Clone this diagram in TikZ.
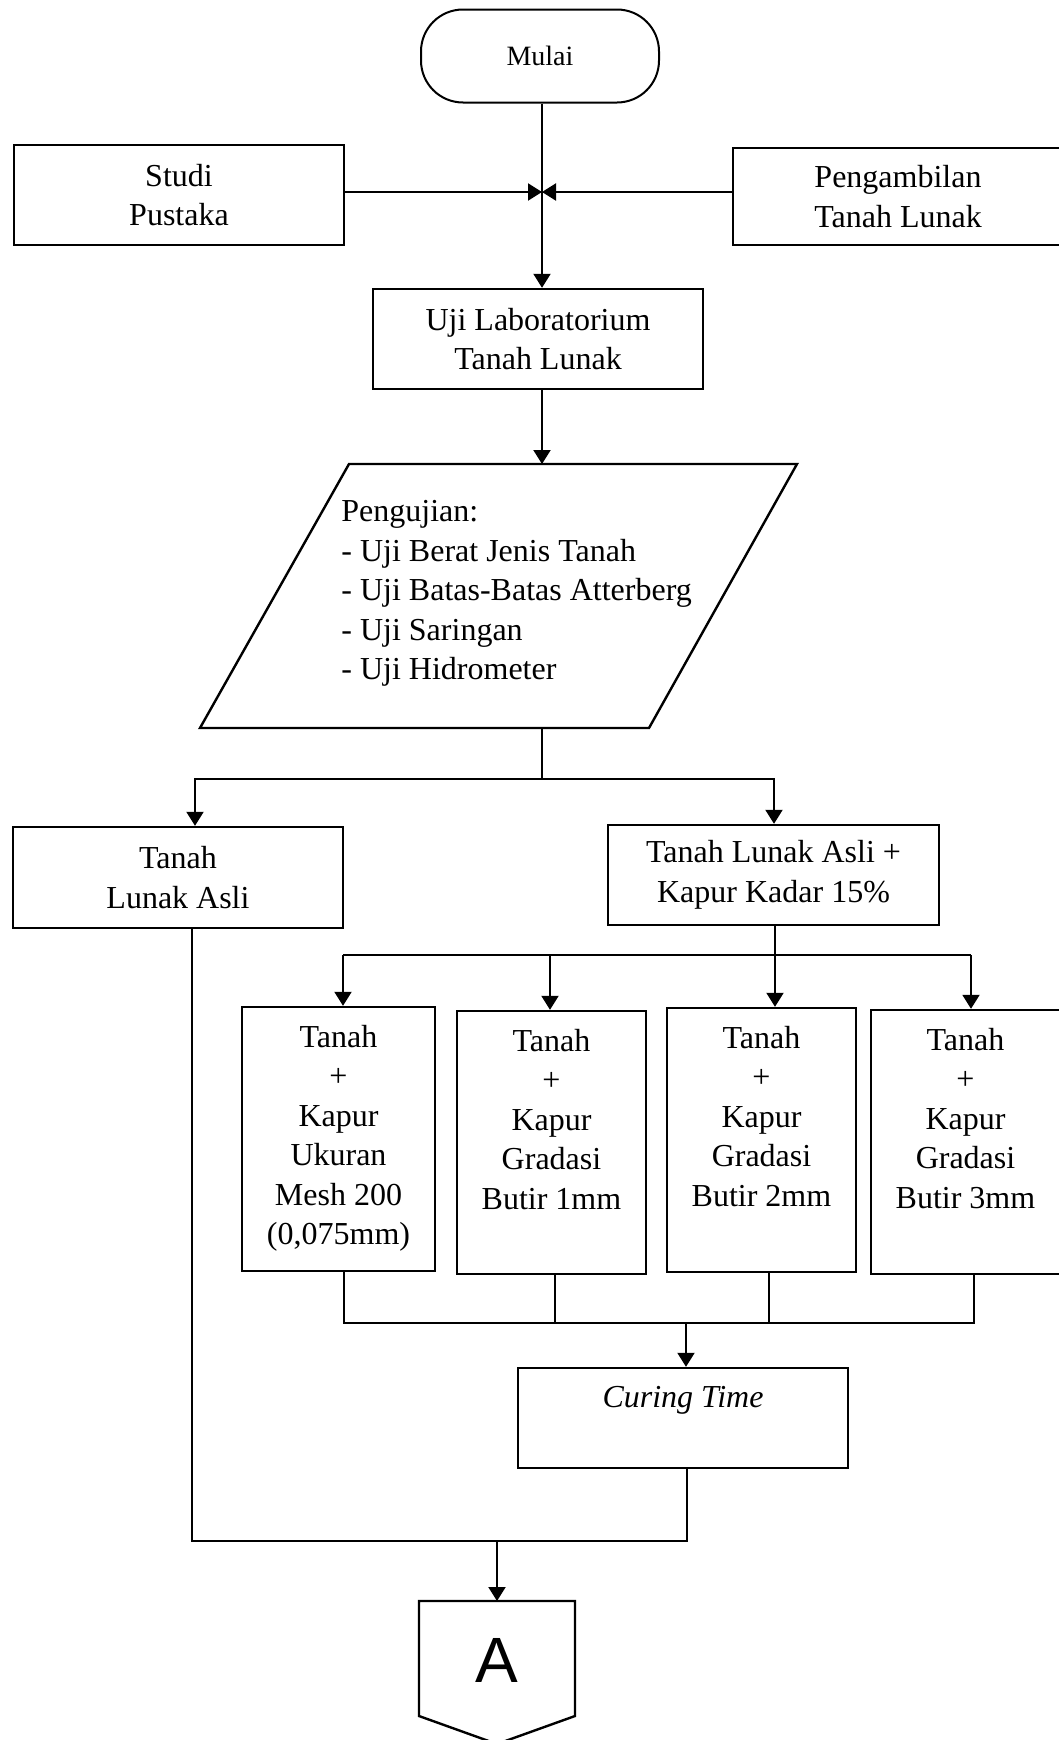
\documentclass[tikz,border=0pt]{standalone}
\usepackage{fontspec}
\setmainfont{Liberation Serif}
\newfontfamily\arialfont{Liberation Sans}
\usetikzlibrary{arrows.meta}

\begin{document}
\begin{tikzpicture}[
  x=0.5pt,
  y=-0.5pt,
  >={Triangle[width=8.5pt,length=7pt]},
  procbox/.style={draw=black,line width=1.2pt,rectangle,inner sep=0pt,
    align=center,font=\fontsize{16}{19.75}\selectfont},
  terminal/.style={draw=black,line width=1pt,rectangle,rounded corners=21pt,
    inner sep=0pt,font=\fontsize{14}{17}\selectfont},
  boxtext/.style={inner sep=0pt,align=center,font=\fontsize{16}{19.75}\selectfont},
  procline/.style={black,line width=1.2pt},
  flowline/.style={black,line width=1pt}
]
\path[use as bounding box] (0,0) rectangle (1059,1740);
\clip (0,0) rectangle (1059,1740);

\node[terminal,minimum width=119pt,minimum height=46.5pt] (mulai) at (540,56) {Mulai};
\node[procbox,minimum width=165pt,minimum height=50pt] (studi) at (179,195) {Studi\\Pustaka};
\node[procbox,minimum width=165pt,minimum height=48.5pt] (ambil) at (898,196.5)
  {Pengambilan\\Tanah Lunak};
\node[procbox,minimum width=165pt,minimum height=50pt] (ujilab) at (538,339)
  {Uji Laboratorium\\Tanah Lunak};

\coordinate (pa) at (349,464);
\coordinate (pb) at (797,464);
\coordinate (pc) at (649,728);
\coordinate (pd) at (200,728);
\coordinate (pin) at (542,464);
\coordinate (pout) at (542,728);
\draw[procline] (pa) -- (pb) -- (pc) -- (pd) -- cycle;
\node[boxtext,align=left,anchor=north west] (uji) at (341,500)
  {Pengujian:\\- Uji Berat Jenis Tanah\\- Uji Batas-Batas Atterberg\\
   - Uji Saringan\\- Uji Hidrometer};

\node[procbox,minimum width=165pt,minimum height=50.5pt] (asli) at (178,877.5)
  {Tanah\\Lunak Asli};
\node[procbox,minimum width=165.5pt,minimum height=50pt] (kadar) at (773.5,875)
  {Tanah Lunak Asli +\\Kapur Kadar 15\%};

\node[procbox,minimum width=96.5pt,minimum height=132pt] (t1) at (338.5,1139) {};
\node[procbox,minimum width=94.5pt,minimum height=131.5pt] (t2) at (551.5,1142.5) {};
\node[procbox,minimum width=94.5pt,minimum height=132pt] (t3) at (761.5,1140) {};
\node[procbox,minimum width=94.5pt,minimum height=132pt] (t4) at (965.5,1142) {};
\node[boxtext,below=9.5pt] (t1txt) at (t1.north)
  {Tanah\\+\\Kapur\\Ukuran\\Mesh 200\\(0,075mm)};
\node[boxtext,below=9.5pt] (t2txt) at (t2.north) {Tanah\\+\\Kapur\\Gradasi\\Butir 1mm};
\node[boxtext,below=9.5pt] (t3txt) at (t3.north) {Tanah\\+\\Kapur\\Gradasi\\Butir 2mm};
\node[boxtext,below=9.5pt] (t4txt) at (t4.north) {Tanah\\+\\Kapur\\Gradasi\\Butir 3mm};

\node[procbox,minimum width=165pt,minimum height=50pt] (cure) at (683,1418) {};
\node[boxtext,below=9.5pt,font=\fontsize{16}{19.75}\selectfont\itshape] (curetxt)
  at (cure.north) {Curing Time};

\coordinate (offtop) at (497,1601);
\draw[procline] (419,1601) -- (575,1601) -- (575,1716) -- (497,1744)
  -- (419,1716) -- cycle;
\node[inner sep=0pt,font=\arialfont\fontsize{32}{32}\selectfont] (offA) at (497,1660) {A};

% connectors
\coordinate (j1) at (542,192);
\draw[flowline,->] (mulai.south -| j1) -- (ujilab.north -| j1);
\draw[flowline,->] (studi.east |- j1) -- (j1);
\draw[flowline,->] (ambil.west |- j1) -- (j1);
\draw[flowline,->] (ujilab.south -| j1) -- (pin);

\coordinate (s1) at (542,779);
\coordinate (s1l) at (195,779);
\coordinate (s1r) at (774,779);
\draw[flowline] (pout) -- (s1);
\draw[flowline,->] (s1) -| (asli.north -| s1l);
\draw[flowline,->] (s1) -| (kadar.north -| s1r);

\coordinate (a1) at (343,955);
\coordinate (a2) at (550,955);
\coordinate (a3) at (775,955);
\coordinate (a4) at (971,955);
\draw[flowline] (kadar.south -| a3) -- (a3);
\draw[flowline] (a1) -- (a4);
\draw[flowline,->] (a1) -- (t1.north -| a1);
\draw[flowline,->] (a2) -- (t2.north -| a2);
\draw[flowline,->] (a3) -- (t3.north -| a3);
\draw[flowline,->] (a4) -- (t4.north -| a4);

\coordinate (b1) at (344,1323);
\coordinate (b2) at (555,1323);
\coordinate (b3) at (769,1323);
\coordinate (b4) at (974,1323);
\coordinate (bm) at (686,1323);
\draw[flowline] (t1.south -| b1) -- (b1) -- (b4) -- (t4.south -| b4);
\draw[flowline] (t2.south -| b2) -- (b2);
\draw[flowline] (t3.south -| b3) -- (b3);
\draw[flowline,->] (bm) -- (cure.north -| bm);

\coordinate (c1) at (192,1541);
\coordinate (c2) at (687,1541);
\coordinate (cm) at (497,1541);
\draw[flowline] (asli.south -| c1) -- (c1) -- (c2) -- (cure.south -| c2);
\draw[flowline,->] (cm) -- (offtop);
\end{tikzpicture}
\end{document}
